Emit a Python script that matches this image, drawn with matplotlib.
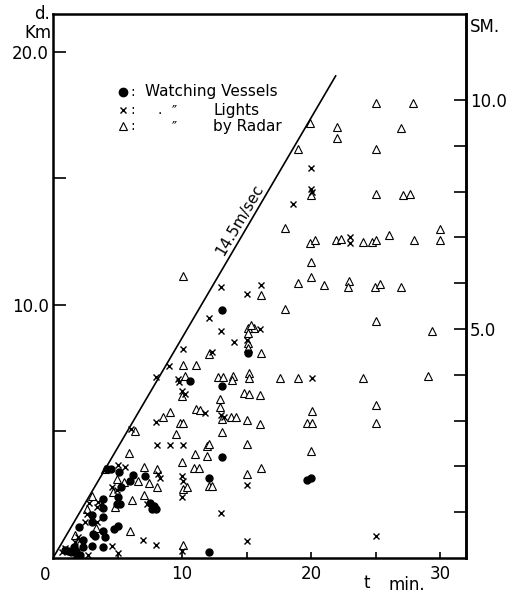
import math
import numpy as np
import matplotlib
matplotlib.use('Agg')
import matplotlib.pyplot as plt

# reference speed line and mile conversion
SPEED_MS = 14.5
LINE_END_MIN = 21.9
KM_PER_SM = 1.81

# (t min, d km) for each kind of observation
vessels = np.array([
    (13.1, 9.8), (15.1, 8.1), (10.6, 7.0), (13.1, 6.8), (13.1, 4.0), (12.1, 3.15),
    (12.05, 0.25), (19.7, 3.1), (20.0, 3.15), (4.2, 3.5), (4.5, 3.5), (5.1, 3.4),
    (6.2, 3.3), (7.15, 3.25), (6.0, 3.05), (5.25, 2.82), (3.9, 2.32), (4.95, 2.13),
    (5.2, 2.13), (5.05, 2.4), (7.5, 2.16), (7.8, 2.07), (8.0, 1.94), (7.7, 1.94),
    (3.9, 1.96), (3.9, 1.63), (3.05, 1.70), (3.05, 1.44), (2.05, 1.21), (3.07, 0.95),
    (3.25, 0.88), (3.9, 1.08), (4.0, 0.84), (4.75, 1.13), (5.05, 1.26), (2.35, 0.71),
    (3.0, 0.47), (3.9, 0.42), (1.65, 0.42), (1.8, 0.29), (1.4, 0.24), (2.1, 0.10),
    (1.85, 0.05), (0.95, 0.32), (2.35, 0.44), (1.15, 0.27),
])

lights = np.array([
    (20.0, 15.4), (20.0, 14.6), (20.1, 14.45), (18.6, 14.0), (23.0, 12.7), (23.0, 12.45),
    (16.1, 10.8), (16.05, 9.05), (20.05, 7.13), (25.0, 0.87), (13.0, 10.7), (15.0, 10.45),
    (12.05, 9.47), (13.0, 8.97), (14.05, 8.55), (15.06, 8.6), (10.05, 8.25), (12.35, 8.15),
    (9.0, 7.6), (8.0, 7.14), (9.65, 7.06), (9.8, 6.97), (10.0, 6.6), (10.2, 6.48),
    (11.75, 5.75), (13.0, 5.64), (13.25, 5.58), (8.0, 5.39), (6.05, 5.08), (8.05, 4.45),
    (9.05, 4.45), (10.05, 4.45), (15.06, 2.9), (13.0, 1.79), (10.0, 2.43), (10.0, 3.25),
    (10.05, 3.05), (15.0, 0.68), (7.0, 0.72), (8.0, 0.5), (10.0, 0.26), (5.06, 3.68),
    (5.58, 3.58), (8.29, 3.15), (8.17, 3.32), (4.55, 2.82), (4.94, 2.69), (3.5, 2.23),
    (3.77, 2.16), (3.38, 2.03), (2.82, 2.16), (2.66, 1.74), (2.48, 1.44), (3.38, 1.44),
    (7.26, 2.12), (1.96, 0.84), (2.09, 0.71), (1.71, 0.65), (4.55, 0.46), (5.06, 0.18),
    (2.74, 0.1), (0.93, 0.41), (0.67, 0.25),
])

radar = np.array([
    (25.0, 18.0), (27.9, 18.0), (19.9, 17.2), (22.0, 17.05), (22.0, 16.6), (27.0, 17.0),
    (19.0, 16.15), (25.0, 16.15), (20.0, 14.35), (25.0, 14.38), (27.15, 14.35), (27.65, 14.4),
    (18.0, 13.05), (30.0, 13.0), (30.0, 12.55), (19.9, 12.46), (20.3, 12.57), (21.95, 12.57),
    (22.3, 12.6), (24.0, 12.5), (24.7, 12.5), (25.05, 12.55), (26.0, 12.77), (28.0, 12.57),
    (20.0, 11.7), (20.0, 11.1), (18.95, 10.85), (21.0, 10.8), (22.95, 10.95), (22.85, 10.7),
    (24.95, 10.72), (25.3, 10.83), (27.0, 10.72), (16.1, 10.4), (10.05, 11.15),
    (18.0, 9.83), (25.05, 9.37), (29.4, 8.97), (15.6, 9.1), (16.1, 8.09), (17.6, 7.13),
    (19.0, 7.13), (24.0, 7.13), (29.05, 7.19), (16.0, 6.44), (20.1, 5.81), (19.7, 5.32),
    (20.1, 5.32), (16.0, 5.3), (25.05, 6.05), (25.0, 5.35), (20.0, 4.24), (16.1, 3.55),
    (15.1, 9.1), (15.35, 9.2), (15.1, 8.88), (15.1, 8.5), (15.1, 8.3), (12.05, 8.06),
    (10.05, 7.63), (11.1, 7.63), (10.2, 7.18), (12.8, 7.17), (13.2, 7.17), (13.95, 7.2),
    (13.9, 7.02), (15.15, 7.32), (15.2, 7.1), (9.97, 6.4), (14.8, 6.54), (15.2, 6.5),
    (12.95, 6.27), (12.95, 5.98), (11.1, 5.9), (9.07, 5.78), (8.5, 5.59), (11.4, 5.84),
    (9.84, 5.35), (10.1, 5.35), (9.53, 4.9), (6.36, 5.03), (11.9, 4.43), (13.1, 5.48),
    (13.8, 5.58), (14.2, 5.58), (15.06, 5.44), (13.1, 4.98), (12.08, 4.51), (15.06, 4.51),
    (11.04, 4.12), (11.95, 4.05), (10.9, 3.55), (11.3, 3.55), (15.06, 3.32), (10.08, 2.72),
    (10.4, 2.79), (12.08, 2.83), (12.3, 2.83), (10.0, 3.8), (10.05, 0.5),
    (5.92, 4.14), (4.05, 3.52), (7.08, 3.58), (8.04, 3.52), (4.94, 3.11), (5.5, 3.02),
    (6.6, 3.06), (7.47, 2.98), (8.09, 2.82), (7.05, 2.49), (6.1, 2.29), (4.68, 2.62),
    (5.97, 1.08), (2.6, 1.95), (3.0, 2.45), (4.8, 2.0), (1.7, 0.9), (3.3, 1.2),
])

x_major = [10, 20, 30]
x_minor = [5, 15, 25]
y_major = [10, 20]
y_major_labels = ['10.0', '20.0']
y_minor = [5, 15]
sm_ticks = list(range(1, 11))
sm_labels = ['', '', '', '', '5.0', '', '', '', '', '10.0']

W, H = 507, 593
plt.rcParams['font.family'] = 'DejaVu Sans'

fig = plt.figure(figsize=(W / 100, H / 100), dpi=100)
ax = fig.add_axes([53 / W, 1 - 558 / H, (466 - 53) / W, (558 - 14) / H])
ax.set_xlim(0, 32.0)
ax.set_ylim(0, 21.5)

for sp in ax.spines.values():
    sp.set_linewidth(1.8)

ax.set_xticks(x_major)
ax.set_xticklabels([str(v) for v in x_major], fontsize=12)
ax.set_xticks(x_minor, minor=True)
ax.set_yticks(y_major)
ax.set_yticklabels(y_major_labels, fontsize=12)
ax.set_yticks(y_minor, minor=True)
ax.tick_params(axis='x', which='both', direction='in', length=4.5, width=1.2, pad=5)
ax.tick_params(axis='y', which='both', direction='in', length=9, width=1.2, pad=3)

sec = ax.secondary_yaxis('right', functions=(lambda d: d / KM_PER_SM,
                                              lambda s: s * KM_PER_SM))
sec.set_yticks(sm_ticks)
sec.set_yticklabels(sm_labels, fontsize=12)
sec.tick_params(direction='in', length=9, width=1.2, pad=3)
sec.spines['right'].set_linewidth(1.8)

# observations
ax.plot(radar[:, 0], radar[:, 1], linestyle='none', marker='^', ms=5.2,
        mfc='white', mec='black', mew=0.8)
ax.plot(lights[:, 0], lights[:, 1], linestyle='none', marker='x', ms=4.5,
        color='black', mew=1.0)
ax.plot(vessels[:, 0], vessels[:, 1], linestyle='none', marker='o', ms=5,
        color='black')

# 14.5 m/sec line
km_per_min = SPEED_MS * 60 / 1000
ax.plot([0, LINE_END_MIN], [0, km_per_min * LINE_END_MIN], color='black', lw=1.2)
p0 = ax.transData.transform((0, 0))
p1 = ax.transData.transform((LINE_END_MIN, km_per_min * LINE_END_MIN))
ang = math.degrees(math.atan2(p1[1] - p0[1], p1[0] - p0[0]))
ax.text(14.5, 13.35, '14.5m/sec', rotation=ang, ha='center', va='center',
        fontsize=11, rotation_mode='anchor')

# legend drawn by hand
leg_rows = [18.42, 17.7, 17.07]
ax.plot([5.43], [leg_rows[0]], marker='o', ms=6, color='black', ls='none')
ax.plot([5.43], [leg_rows[1]], marker='x', ms=5, color='black', mew=1.0, ls='none')
ax.plot([5.43], [leg_rows[2]], marker='^', ms=6, mfc='white', mec='black', mew=0.8, ls='none')
for y in leg_rows:
    ax.text(6.0, y, ':', fontsize=10, va='center')
ax.text(7.1, leg_rows[0], 'Watching Vessels', fontsize=11, va='center')
ax.text(8.1, leg_rows[1], '.', fontsize=10, va='center')
ax.text(9.2, leg_rows[1], '\u2033', fontsize=10, va='center')
ax.text(12.4, leg_rows[1], 'Lights', fontsize=11, va='center')
ax.text(9.2, leg_rows[2], '\u2033', fontsize=10, va='center')
ax.text(12.4, leg_rows[2], 'by Radar', fontsize=11, va='center')

# axis captions
fig.text(50 / W, 1 - 14 / H, 'd.', fontsize=12, ha='right', va='center')
fig.text(51 / W, 1 - 33 / H, 'Km', fontsize=12, ha='right', va='center')
fig.text(470 / W, 1 - 27 / H, 'SM.', fontsize=12, ha='left', va='center')
fig.text(367 / W, 1 - 583 / H, 't', fontsize=12, ha='center', va='center')
fig.text(389 / W, 1 - 585 / H, 'min.', fontsize=12, ha='left', va='center')
fig.text(45 / W, 1 - 575 / H, '0', fontsize=12, ha='center', va='center')

fig.savefig('out.png', dpi=100)
